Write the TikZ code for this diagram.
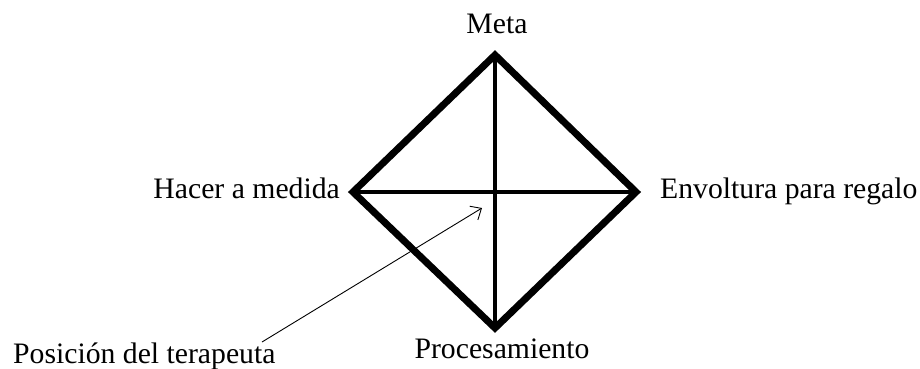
\documentclass[tikz,border=0pt]{standalone}
\usepackage{fontspec}
\setmainfont{Liberation Serif}
\usetikzlibrary{arrows.meta}
\begin{document}
\begin{tikzpicture}[x=1pt,y=-1pt,
  lbl/.style={inner sep=0pt, font=\fontsize{29.7}{34}\selectfont},
  edge/.style={line width=7pt, line join=miter},
  inner/.style={line width=4.5pt},
  pointer/.style={line width=0.9pt, -{Straight Barb[length=9pt,width=16pt,line width=0.9pt]}}]
\useasboundingbox (0,0) rectangle (920,368);
\coordinate (T) at (495,55);
\coordinate (L) at (353,192);
\coordinate (R) at (636,192);
\coordinate (B) at (495,328);
\draw[edge] (T) -- (R) -- (B) -- (L) -- cycle;
\draw[inner] (T) -- (B);
\draw[inner] (L) -- (R);
\node[lbl, anchor=base] (meta) at (497,33) {Meta};
\node[lbl, anchor=base east] (hacer) at (340,198) {Hacer a medida};
\node[lbl, anchor=base west] (env) at (660,198) {Envoltura para regalo};
\node[lbl, anchor=base] (proc) at (502,358) {Procesamiento};
\node[lbl, anchor=base west] (pos) at (13,363) {Posición del terapeuta};
\coordinate (tail) at (262,342);
\coordinate (head) at (482,208);
\draw[pointer] (tail) -- (head);
\end{tikzpicture}
\end{document}
